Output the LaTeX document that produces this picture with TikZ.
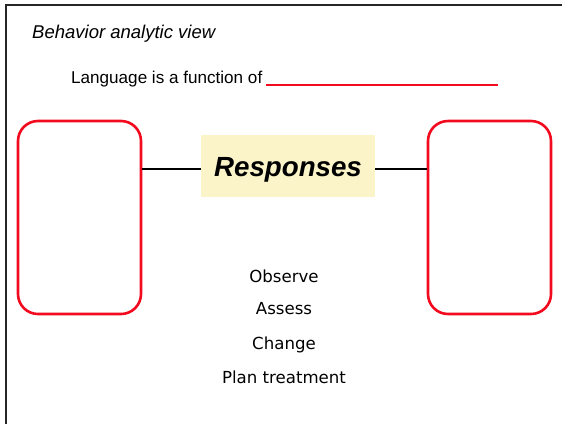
\documentclass[tikz,border=0pt]{standalone}
\usepackage{fontspec}
\setmainfont{Liberation Sans}
\newfontfamily\handfont{DejaVu Sans}
\definecolor{boxred}{HTML}{F20A1E}
\definecolor{paleyellow}{HTML}{FAF4C8}
\begin{document}
\begin{tikzpicture}[x=1pt,y=-1pt,
  frameline/.style={line width=1.2pt,black!85},
  slot/.style={draw=boxred,line width=2.6pt,rounded corners=20pt},
  link/.style={line width=1.8pt,black},
  listitem/.style={font=\handfont\fontsize{16.6}{18}\selectfont,anchor=base,inner sep=0pt}]
\useasboundingbox (0,0) rectangle (562,424);
% open frame: left and top edges only
\draw[frameline] (6,424) -- (6,5) -- (562,5);
% headings
\node[anchor=base west,inner sep=0pt,font=\fontsize{18.5}{20}\selectfont\itshape] (title) at (32,38) {Behavior analytic view};
\node[anchor=base west,inner sep=0pt,font=\fontsize{17.1}{19}\selectfont] (question) at (71,83) {Language is a function of};
\coordinate (blankA) at (266,85);
\coordinate (blankB) at (498,85);
\draw[boxred,line width=1.6pt] (blankA) -- (blankB);
% empty slots on either side
\node[slot,minimum width=123pt,minimum height=193pt] (left) at (79.5,217.5) {};
\node[slot,minimum width=123pt,minimum height=193pt] (right) at (489.5,217.5) {};
% central label
\node[fill=paleyellow,minimum width=174pt,minimum height=62pt,inner sep=0pt,
      font=\fontsize{27.7}{30}\selectfont\bfseries\itshape,
      text height=21pt,text depth=0pt] (resp) at (288,166) {Responses};
\draw[link] (left.east |- 0,169) -- (resp.west |- 0,169);
\draw[link] (resp.east |- 0,169) -- (right.west |- 0,169);
% list of activities
\node[listitem] (obs) at (284,282) {Observe};
\node[listitem] (ass) at (284,314) {Assess};
\node[listitem] (chg) at (284,349) {Change};
\node[listitem] (plan) at (284,383) {Plan treatment};
\end{tikzpicture}
\end{document}
